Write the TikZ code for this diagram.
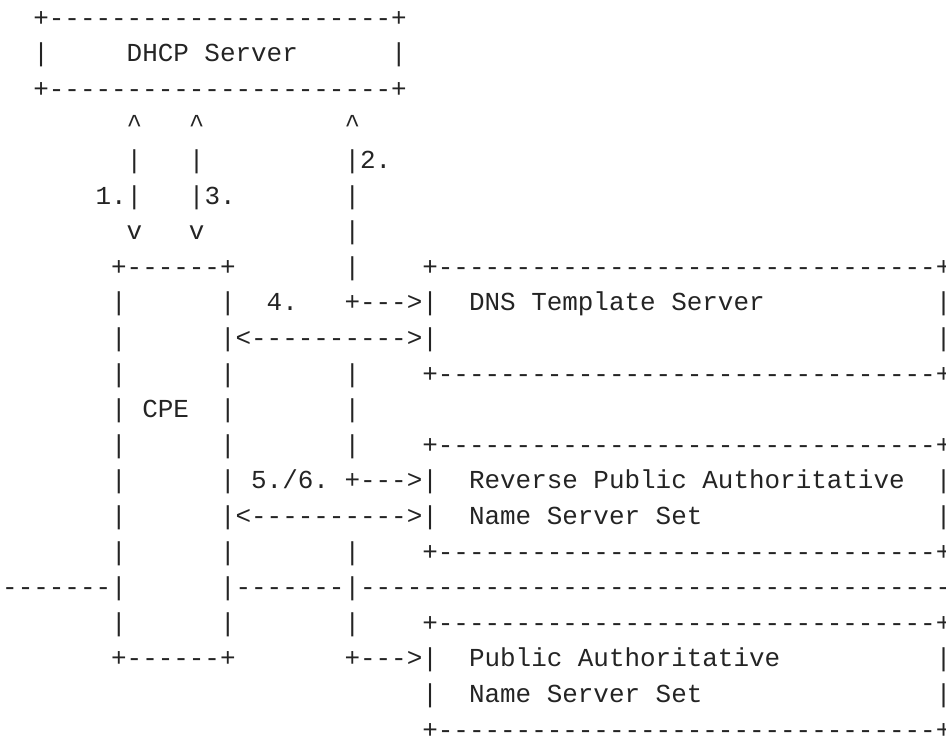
\documentclass[tikz,border=0pt]{standalone}
\usepackage{fontspec}
\setmonofont{Liberation Mono}
\definecolor{ink}{RGB}{36,36,36}
\tikzset{t/.style={anchor=base west, inner sep=0pt, outer sep=0pt,
  font=\ttfamily\fontsize{12.965}{15}\selectfont, text=ink}}
\newcommand\seg[3]{\node[t] (r#1c#2) at ({2.22+15.56*#2},{-(26.1+35.6*#1)}) {#3};}
\begin{document}
\begin{tikzpicture}[x=0.5pt,y=0.5pt]
\useasboundingbox (0,0) rectangle (946,-738);
% DHCP server box
\seg{0}{2}{+----------------------+}
\seg{1}{2}{|}\seg{1}{8}{DHCP Server}\seg{1}{25}{|}
\seg{2}{2}{+----------------------+}
% arrows to DHCP
\seg{3}{8}{\textasciicircum}\seg{3}{12}{\textasciicircum}\seg{3}{22}{\textasciicircum}
\seg{4}{8}{|}\seg{4}{12}{|}\seg{4}{22}{|2.}
\seg{5}{6}{1.|}\seg{5}{12}{|3.}\seg{5}{22}{|}
\seg{6}{8}{v}\seg{6}{12}{v}\seg{6}{22}{|}
% CPE and right boxes
\seg{7}{7}{+------+}\seg{7}{22}{|}\seg{7}{27}{+--------------------------------+}
\seg{8}{7}{|}\seg{8}{14}{|}\seg{8}{17}{4.}\seg{8}{22}{+--->|}\seg{8}{30}{DNS Template Server}\seg{8}{60}{|}
\seg{9}{7}{|}\seg{9}{14}{|<---------->|}\seg{9}{60}{|}
\seg{10}{7}{|}\seg{10}{14}{|}\seg{10}{22}{|}\seg{10}{27}{+--------------------------------+}
\seg{11}{7}{|}\seg{11}{9}{CPE}\seg{11}{14}{|}\seg{11}{22}{|}
\seg{12}{7}{|}\seg{12}{14}{|}\seg{12}{22}{|}\seg{12}{27}{+--------------------------------+}
\seg{13}{7}{|}\seg{13}{14}{|}\seg{13}{16}{5./6.}\seg{13}{22}{+--->|}\seg{13}{30}{Reverse Public Authoritative}\seg{13}{60}{|}
\seg{14}{7}{|}\seg{14}{14}{|<---------->|}\seg{14}{30}{Name Server Set}\seg{14}{60}{|}
\seg{15}{7}{|}\seg{15}{14}{|}\seg{15}{22}{|}\seg{15}{27}{+--------------------------------+}
\seg{16}{0}{-------|}\seg{16}{14}{|-------|--------------------------------------}
\seg{17}{7}{|}\seg{17}{14}{|}\seg{17}{22}{|}\seg{17}{27}{+--------------------------------+}
\seg{18}{7}{+------+}\seg{18}{22}{+--->|}\seg{18}{30}{Public Authoritative}\seg{18}{60}{|}
\seg{19}{27}{|}\seg{19}{30}{Name Server Set}\seg{19}{60}{|}
\seg{20}{27}{+--------------------------------+}
\end{tikzpicture}
\end{document}
